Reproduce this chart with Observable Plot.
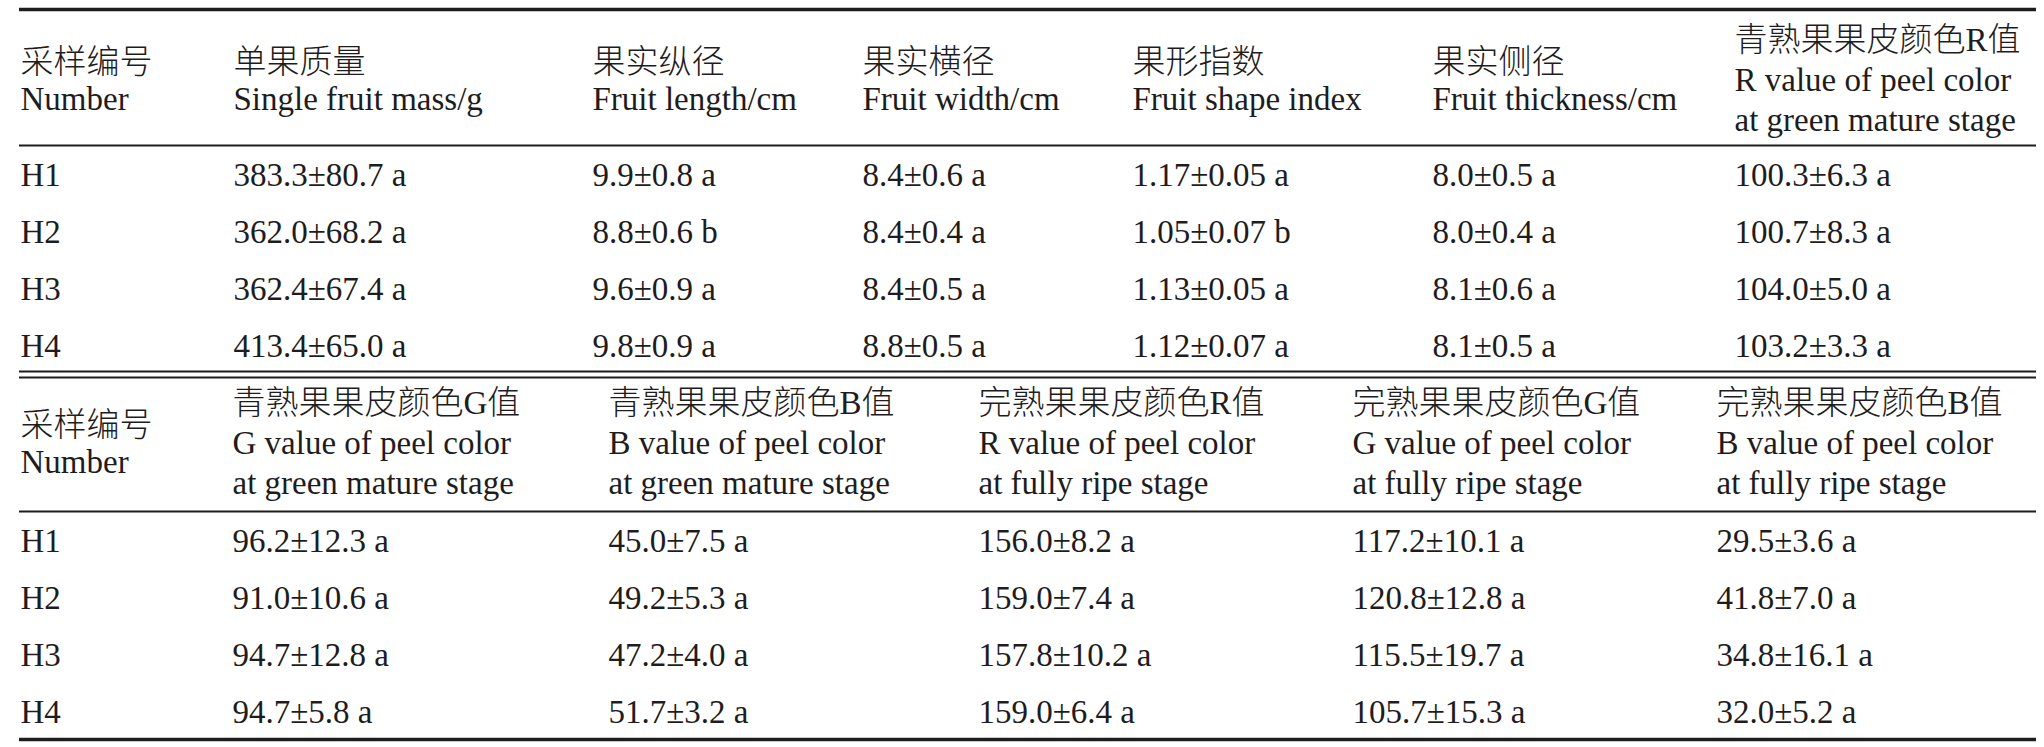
<!DOCTYPE html>
<html>
<head>
<meta charset="utf-8">
<script src="https://cdn.jsdelivr.net/npm/d3@7"></script>
<script src="https://cdn.jsdelivr.net/npm/@observablehq/plot@0.6"></script>
<style>
html, body { margin: 0; padding: 0; background: #fff; overflow: hidden; }
</style>
</head>
<body>
<div id="chart"></div>
<script>
// ---------- data ----------
const samples = ["H1", "H2", "H3", "H4"];
const idHeader = ["采样编号", "Number"];

const topHeaders = [
  ["单果质量", "Single fruit mass/g"],
  ["果实纵径", "Fruit length/cm"],
  ["果实横径", "Fruit width/cm"],
  ["果形指数", "Fruit shape index"],
  ["果实侧径", "Fruit thickness/cm"],
  ["青熟果果皮颜色R值", "R value of peel color", "at green mature stage"]
];
const bottomHeaders = [
  ["青熟果果皮颜色G值", "G value of peel color", "at green mature stage"],
  ["青熟果果皮颜色B值", "B value of peel color", "at green mature stage"],
  ["完熟果果皮颜色R值", "R value of peel color", "at fully ripe stage"],
  ["完熟果果皮颜色G值", "G value of peel color", "at fully ripe stage"],
  ["完熟果果皮颜色B值", "B value of peel color", "at fully ripe stage"]
];

const massMean = [383.3, 362.0, 362.4, 413.4];
const massSD = [80.7, 68.2, 67.4, 65.0];
const massSig = ["a", "a", "a", "a"];
const lengthMean = [9.9, 8.8, 9.6, 9.8];
const lengthSD = [0.8, 0.6, 0.9, 0.9];
const lengthSig = ["a", "b", "a", "a"];
const widthMean = [8.4, 8.4, 8.4, 8.8];
const widthSD = [0.6, 0.4, 0.5, 0.5];
const widthSig = ["a", "a", "a", "a"];
const shapeMean = [1.17, 1.05, 1.13, 1.12];
const shapeSD = [0.05, 0.07, 0.05, 0.07];
const shapeSig = ["a", "b", "a", "a"];
const thickMean = [8.0, 8.0, 8.1, 8.1];
const thickSD = [0.5, 0.4, 0.6, 0.5];
const thickSig = ["a", "a", "a", "a"];
const greenRMean = [100.3, 100.7, 104.0, 103.2];
const greenRSD = [6.3, 8.3, 5.0, 3.3];
const greenRSig = ["a", "a", "a", "a"];

const greenGMean = [96.2, 91.0, 94.7, 94.7];
const greenGSD = [12.3, 10.6, 12.8, 5.8];
const greenGSig = ["a", "a", "a", "a"];
const greenBMean = [45.0, 49.2, 47.2, 51.7];
const greenBSD = [7.5, 5.3, 4.0, 3.2];
const greenBSig = ["a", "a", "a", "a"];
const ripeRMean = [156.0, 159.0, 157.8, 159.0];
const ripeRSD = [8.2, 7.4, 10.2, 6.4];
const ripeRSig = ["a", "a", "a", "a"];
const ripeGMean = [117.2, 120.8, 115.5, 105.7];
const ripeGSD = [10.1, 12.8, 19.7, 15.3];
const ripeGSig = ["a", "a", "a", "a"];
const ripeBMean = [29.5, 41.8, 34.8, 32.0];
const ripeBSD = [3.6, 7.0, 16.1, 5.2];
const ripeBSig = ["a", "a", "a", "a"];

// ---------- layout (positions and styles, kept apart from data) ----------
const W = 2044, H = 747;
const lineX1 = 19, lineX2 = 2036;
const topColX = [20, 233, 592, 862, 1132, 1432, 1734];
const botColX = [20, 232, 608, 978, 1352, 1716];
const topHeaderMid = 80, botHeaderMid = 443;
const topRow0 = 175, botRow0 = 541, rowStep = 57;
const ink = "#1e1c1d";
const fontFamily = "'Liberation Serif', 'Times New Roman', 'Noto Sans CJK SC', serif";

const topCols = [
  {mean: massMean, sd: massSD, sig: massSig, d: 1},
  {mean: lengthMean, sd: lengthSD, sig: lengthSig, d: 1},
  {mean: widthMean, sd: widthSD, sig: widthSig, d: 1},
  {mean: shapeMean, sd: shapeSD, sig: shapeSig, d: 2},
  {mean: thickMean, sd: thickSD, sig: thickSig, d: 1},
  {mean: greenRMean, sd: greenRSD, sig: greenRSig, d: 1}
];
const botCols = [
  {mean: greenGMean, sd: greenGSD, sig: greenGSig, d: 1},
  {mean: greenBMean, sd: greenBSD, sig: greenBSig, d: 1},
  {mean: ripeRMean, sd: ripeRSD, sig: ripeRSig, d: 1},
  {mean: ripeGMean, sd: ripeGSD, sig: ripeGSig, d: 1},
  {mean: ripeBMean, sd: ripeBSD, sig: ripeBSig, d: 1}
];

function headerLines(lines, mid) {
  const step = lines.length === 3 ? 40 : 37;
  const start = mid - step * (lines.length - 1) / 2;
  return lines.map((t, i) => ({t, y: start + i * step}));
}

const cells = [];
function addBlock(headers, cols, colX, headerMid, row0) {
  [idHeader, ...headers].forEach((h, c) => {
    headerLines(h, headerMid).forEach(l => cells.push({x: colX[c], y: l.y, text: l.t}));
  });
  samples.forEach((s, r) => {
    const y = row0 + r * rowStep;
    cells.push({x: colX[0], y, text: s});
    cols.forEach((col, c) => {
      cells.push({
        x: colX[c + 1], y,
        text: `${col.mean[r].toFixed(col.d)}±${col.sd[r].toFixed(col.d)} ${col.sig[r]}`
      });
    });
  });
}
addBlock(topHeaders, topCols, topColX, topHeaderMid, topRow0);
addBlock(bottomHeaders, botCols, botColX, botHeaderMid, botRow0);

const rules = [
  {y: 9, w: 3.5},
  {y: 145, w: 2},
  {y: 371, w: 2},
  {y: 377, w: 2},
  {y: 511, w: 2},
  {y: 739, w: 3.5}
];

const chart = Plot.plot({
  width: W,
  height: H,
  margin: 0,
  style: {background: "#fff"},
  x: {domain: [0, W], range: [0, W], axis: null},
  y: {domain: [0, H], range: [0, H], axis: null},
  strokeWidth: {type: "identity"},
  marks: [
    Plot.ruleY(rules, {y: "y", x1: lineX1, x2: lineX2, stroke: ink, strokeWidth: "w"}),
    Plot.text(cells, {
      x: "x", y: "y", text: "text",
      textAnchor: "start", lineAnchor: "middle",
      fontSize: 33, fontFamily, fontWeight: 300, fill: ink
    })
  ]
});
document.getElementById("chart").appendChild(chart);
</script>
</body>
</html>
